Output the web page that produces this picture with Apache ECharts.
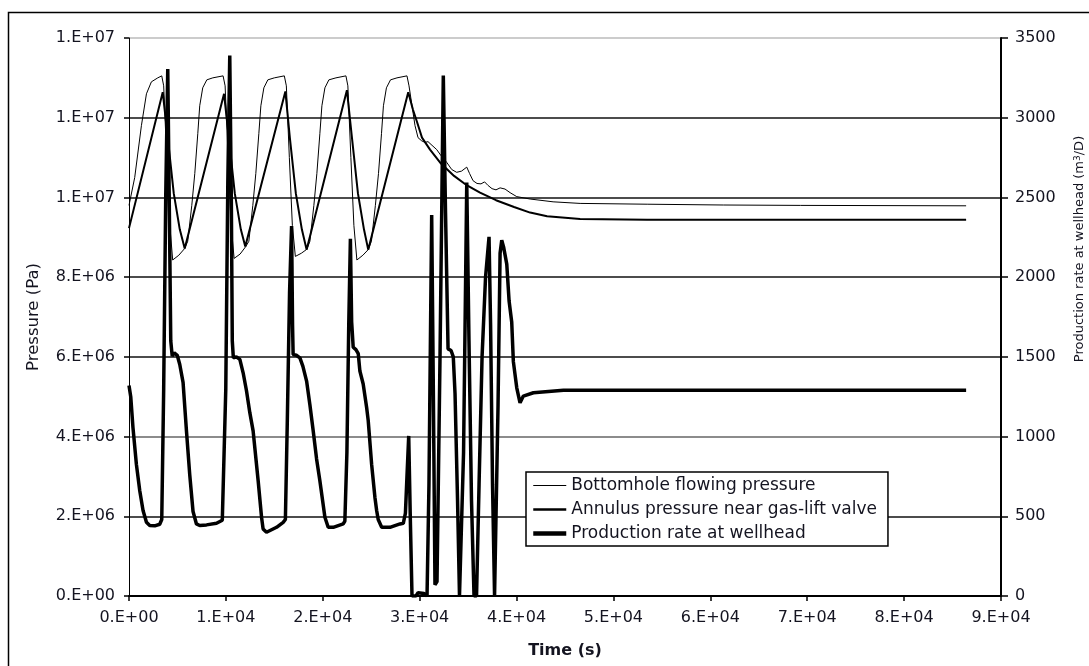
<!DOCTYPE html>
<html><head><meta charset="utf-8">
<script src="https://cdn.jsdelivr.net/npm/echarts@6/dist/echarts.min.js"></script>
<style>html,body{margin:0;padding:0;background:#fff}#c{width:1089px;height:666px}</style>
</head><body><div id="c"></div>
<script>
// ---- tick labels ----
const timeTickLabels = ['0.E+00','1.E+04','2.E+04','3.E+04','4.E+04','5.E+04','6.E+04','7.E+04','8.E+04','9.E+04'];
const pressureTickLabels = ['0.E+00','2.E+06','4.E+06','6.E+06','8.E+06','1.E+07','1.E+07','1.E+07'];
const rateTickLabels = ['0','500','1000','1500','2000','2500','3000','3500'];
const seriesNames = ['Bottomhole flowing pressure','Annulus pressure near gas-lift valve','Production rate at wellhead'];

// ---- Bottomhole flowing pressure (Pa) ----
const bottomholeTime = [0,590,1280,1800,2310,2970,3380,3580,3890,4210,4510,5140,5750,6060,6480,6790,7100,7300,7610,8030,8650,9710,
 9920,10230,10540,10850,11470,12060,12370,12780,13090,13400,13610,13920,14330,15000,16030,
 16240,16550,16860,17170,17790,18360,18670,19080,19390,19700,19910,20220,20630,21360,22390,
 22590,22900,23210,23520,24140,24690,25020,25430,25750,26060,26260,26570,26990,27660,28690,
 28900,29210,29520,29830,30210,30550,30860,31170,31760,32200,32790,33310,33820,34320,34860,35150,35510,35920,36330,36700,37060,37470,37880,38300,38810,39330,40020,41400,43770,46560,53480,61340,69290,86400];
const bottomholePressure = [9.8e6,10.5e6,11.8e6,12.6e6,12.9e6,13.0e6,13.05e6,12.8e6,11.0e6,9.3e6,8.43e6,8.55e6,8.72e6,8.9e6,9.8e6,10.6e6,11.6e6,12.3e6,12.75e6,12.95e6,13.0e6,13.05e6,
 12.8e6,11.0e6,9.3e6,8.47e6,8.58e6,8.77e6,8.9e6,9.8e6,10.6e6,11.6e6,12.3e6,12.75e6,12.95e6,13.0e6,13.05e6,
 12.8e6,11.0e6,9.3e6,8.52e6,8.6e6,8.7e6,8.9e6,9.8e6,10.6e6,11.6e6,12.3e6,12.75e6,12.95e6,13.0e6,13.05e6,
 12.8e6,11.0e6,9.3e6,8.43e6,8.55e6,8.69e6,8.9e6,9.8e6,10.6e6,11.6e6,12.3e6,12.75e6,12.95e6,13.0e6,13.05e6,
 12.8e6,12.3e6,11.8e6,11.5e6,11.42e6,11.38e6,11.4e6,11.33e6,11.2e6,11.05e6,10.88e6,10.7e6,10.63e6,10.66e6,10.76e6,10.6e6,10.42e6,10.35e6,10.34e6,10.39e6,10.3e6,10.22e6,10.19e6,10.24e6,10.21e6,10.12e6,10.02e6,9.96e6,9.89e6,9.85e6,9.83e6,9.81e6,9.8e6,9.79e6];

// ---- Annulus pressure near gas-lift valve (Pa) ----
const annulusTime = [0,3480,4000,4620,5240,5750,9810,10300,10920,11540,12000,16140,16600,17220,17840,18330,22490,23010,23630,24250,24690,
 28820,29310,29720,30240,31070,32200,33550,34890,36230,37880,39740,41400,43150,46560,53480,86400];
const annulusPressure = [9.23e6,12.64e6,11.5e6,10.1e6,9.2e6,8.72e6,12.6e6,11.5e6,10.1e6,9.2e6,8.77e6,12.66e6,11.5e6,10.1e6,9.2e6,8.69e6,12.69e6,11.5e6,10.1e6,9.2e6,8.69e6,
 12.64e6,12.2e6,11.9e6,11.5e6,11.2e6,10.85e6,10.54e6,10.3e6,10.12e6,9.93e6,9.76e6,9.62e6,9.53e6,9.46e6,9.44e6,9.44e6];

// ---- Production rate at wellhead (m3/D) ----
const productionTime = [0,180,410,760,1110,1450,1800,2140,2660,3170,3380,3580,3790,4000,4150,4310,4460,4670,4980,5240,5580,5930,6270,6610,6960,7300,8000,9030,9630,
 9780,9990,10200,10400,10560,10660,10770,11080,11440,11780,12130,12470,12810,13330,13680,13840,14190,15230,15910,
 16140,16340,16570,16780,16880,16940,17270,17640,17950,18330,18670,19010,19360,19700,20220,20560,21080,22110,
 22280,22490,22680,22850,22980,23140,23420,23660,23830,24170,24530,24690,25040,25380,25560,25720,26080,26930,27970,28310,
 28530,28690,28870,29030,29210,29620,29830,30030,30450,30760,
 30960,31240,31410,31580,31790,32100,32440,32670,32930,33240,33470,33650,33910,34110,34270,34530,34860,35090,35350,35610,
 35870,36130,36440,36800,37160,37320,37520,37730,37880,38090,38300,38470,38660,38990,39230,39500,39670,40020,40360,40700,41740,44840,86400];
const productionRate = [1320,1250,1056,827,660,536,462,442,440,450,480,1300,2500,3306,2500,1600,1505,1525,1510,1452,1340,1036,760,530,452,442,446,456,475,
 480,1300,2600,3390,2500,1600,1494,1500,1484,1400,1286,1150,1036,723,494,421,400,431,462,
 480,1100,1900,2320,1700,1515,1510,1494,1440,1348,1200,1036,860,723,494,431,431,452,
 470,900,1700,2240,1720,1560,1545,1520,1411,1330,1181,1100,827,620,536,480,431,431,452,456,
 520,750,1004,500,0,0,20,25,15,0,
 700,2390,1300,70,90,1500,3264,2400,1550,1540,1500,1270,600,0,0,900,2594,1600,600,0,
 0,700,1500,2000,2253,1700,700,0,0,1200,2150,2231,2190,2082,1850,1719,1470,1306,1212,1254,1275,1290,1290];

const zip = (a, b) => a.map((t, i) => [t, b[i]]);
const FONT = 'DejaVu Sans';
const TXT = '#141420';

const chart = echarts.init(document.getElementById('c'), null, {renderer: 'canvas'});
chart.setOption({
  animation: false,
  backgroundColor: '#fff',
  grid: {left: 129, right: 88, top: 38, bottom: 70, containLabel: false},
  xAxis: {
    type: 'value', min: 0, max: 90000, interval: 10000,
    axisLine: {show: true, lineStyle: {color: '#000', width: 2}},
    axisTick: {show: true, length: 5, lineStyle: {color: '#000', width: 1.5}},
    axisLabel: {margin: 14, color: TXT, fontSize: 16, fontFamily: FONT,
      formatter: v => timeTickLabels[Math.round(v / 10000)]},
    splitLine: {show: false},
    name: 'Time (s)', nameLocation: 'middle', nameGap: 47,
    nameTextStyle: {fontWeight: 'bold', fontSize: 16, fontFamily: FONT, color: TXT}
  },
  yAxis: [{
    type: 'value', position: 'left', min: 0, max: 14e6, interval: 2e6,
    axisLine: {show: true, lineStyle: {color: '#000', width: 1}},
    axisTick: {show: true, length: 5, lineStyle: {color: '#000', width: 1.5}},
    axisLabel: {margin: 14, color: TXT, fontSize: 16, fontFamily: FONT,
      formatter: v => pressureTickLabels[Math.round(v / 2e6)]},
    splitLine: {show: true, lineStyle: {width: 1.5, color: ['#000','#111','#666','#111','#111','#111','#111','#bbb']}},
    name: 'Pressure (Pa)', nameLocation: 'middle', nameGap: 87, nameRotate: 90,
    nameTextStyle: {fontSize: 16.5, fontFamily: FONT, color: TXT}
  }, {
    type: 'value', position: 'right', min: 0, max: 3500, interval: 500,
    axisLine: {show: true, lineStyle: {color: '#000', width: 2}},
    axisTick: {show: true, length: 7, lineStyle: {color: '#000', width: 1.5}},
    axisLabel: {margin: 14, color: TXT, fontSize: 16, fontFamily: FONT,
      formatter: v => rateTickLabels[Math.round(v / 500)]},
    splitLine: {show: false}
  }],
  legend: {
    orient: 'vertical', left: 526, top: 472,
    padding: [5, 11, 4, 5], itemGap: 7, itemWidth: 33, itemHeight: 14,
    backgroundColor: '#fff', borderColor: '#000', borderWidth: 1.5, borderRadius: 0,
    selectedMode: false,
    itemStyle: {opacity: 0, borderWidth: 0},
    textStyle: {fontSize: 17, fontFamily: FONT, color: TXT},
    data: [
      {name: seriesNames[0], lineStyle: {width: 1, color: '#000', opacity: 1}},
      {name: seriesNames[1], lineStyle: {width: 2.5, color: '#000', opacity: 1}},
      {name: seriesNames[2], lineStyle: {width: 4.5, color: '#000', opacity: 1}}
    ]
  },
  graphic: [{
    type: 'rect', silent: true, z: 0,
    shape: {x: 8.5, y: 12.5, width: 1200, height: 800},
    style: {fill: 'none', stroke: '#000', lineWidth: 1.5}
  }, {
    type: 'text', silent: true, x: 1080, y: 249, rotation: Math.PI / 2,
    style: {
      text: 'Production rate at wellhead (m{sup|3}/D)',
      fontSize: 13, fontFamily: FONT, fill: TXT, align: 'center', verticalAlign: 'middle',
      rich: {sup: {fontSize: 9, fontFamily: FONT, fill: TXT, verticalAlign: 'top'}}
    }
  }],
  series: [{
    name: seriesNames[0], type: 'line', yAxisIndex: 0, symbol: 'none', showSymbol: false,
    lineStyle: {color: '#000', width: 1}, itemStyle: {color: '#000'},
    data: zip(bottomholeTime, bottomholePressure)
  }, {
    name: seriesNames[1], type: 'line', yAxisIndex: 0, symbol: 'none', showSymbol: false,
    lineStyle: {color: '#000', width: 2}, itemStyle: {color: '#000'},
    data: zip(annulusTime, annulusPressure)
  }, {
    name: seriesNames[2], type: 'line', yAxisIndex: 1, symbol: 'none', showSymbol: false,
    lineStyle: {color: '#000', width: 3.5}, itemStyle: {color: '#000'},
    data: zip(productionTime, productionRate)
  }]
});
</script></body></html>
